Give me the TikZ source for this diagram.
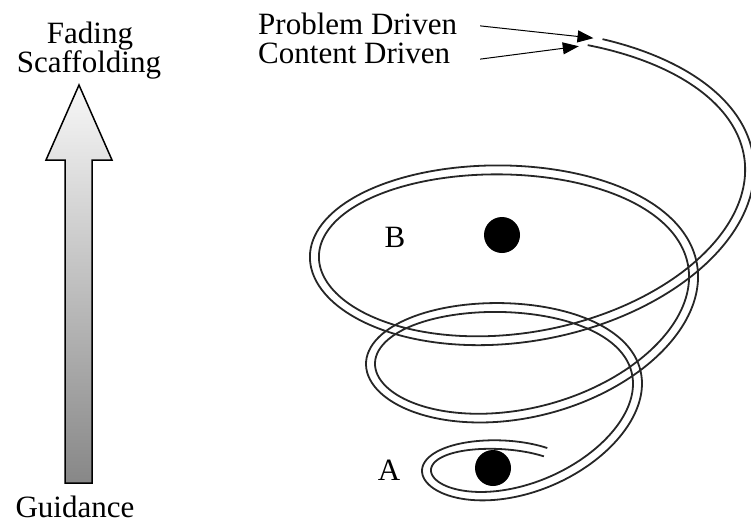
\documentclass[tikz,border=0pt]{standalone}
\usepackage{fontspec}
\setmainfont{Liberation Serif}
\usetikzlibrary{arrows.meta}

\begin{document}
\begin{tikzpicture}[x=1pt, y=-1pt, every node/.append style={font=\fontsize{31}{34}\selectfont},
    declare function={coilr(\t)=63+0.156*\t;
      coilx(\t,\d)=518+(coilr(\t)+\d)*cos(\t);
      coily(\t,\d)=509-0.298*\t-(0.545*coilr(\t)+\d)*sin(\t)-12*cos(\t)+6*sin(\t)*sin(\t);}]
    \tikzstyle{strand}=[line width=1.8pt, draw=black!85];
    \tikzstyle{dot}=[circle, fill=black, inner sep=0pt, minimum size=36pt];
    \tikzstyle{pointer}=[-{Triangle[length=16pt,width=12pt]}, line width=1pt];
    \tikzstyle{txt}=[inner sep=0pt];
    \useasboundingbox (0,0) rectangle (751,523);
    %arrow
    \draw[line width=1.5pt, top color=black!3, bottom color=black!47] (65,483) -- (65,160) -- (46,160) -- (79,85) -- (112,160) -- (92,160) -- (92,483) -- cycle;
    %spiral
    \draw[strand] plot[variable=\t, domain=68:1150, samples=360, smooth] ({coilx(\t,4.5)},{coily(\t,4.5)});
    \draw[strand] plot[variable=\t, domain=68:1153, samples=360, smooth] ({coilx(\t,-4.5)},{coily(\t,-4.5)});
    \coordinate (outend) at ({coilx(1150,4.5)},{coily(1150,4.5)});
    \coordinate (inend) at ({coilx(1153,-4.5)},{coily(1153,-4.5)});
    %dots
    \node[dot] (dotB) at (502,235) {};
    \node[dot] (dotA) at (493,468) {};
    \node[txt, anchor=base] (labB) at (395,247) {B};
    \node[txt, anchor=base] (labA) at (389,480) {A};
    %texts
    \node[txt, anchor=base] (fade) at (90,43) {Fading};
    \node[txt, anchor=base] (scaf) at (89,72) {Scaffolding};
    \node[txt, anchor=base] (guid) at (75,517) {Guidance};
    \node[txt, anchor=base west] (prob) at (258,34) {Problem Driven};
    \node[txt, anchor=base west] (cont) at (258,63) {Content Driven};
    \draw[pointer, shorten <=23pt, shorten >=9pt] (prob.east) -- (outend);
    \draw[pointer, shorten <=30pt, shorten >=9pt] (cont.base east) -- (inend);
\end{tikzpicture}
\end{document}
